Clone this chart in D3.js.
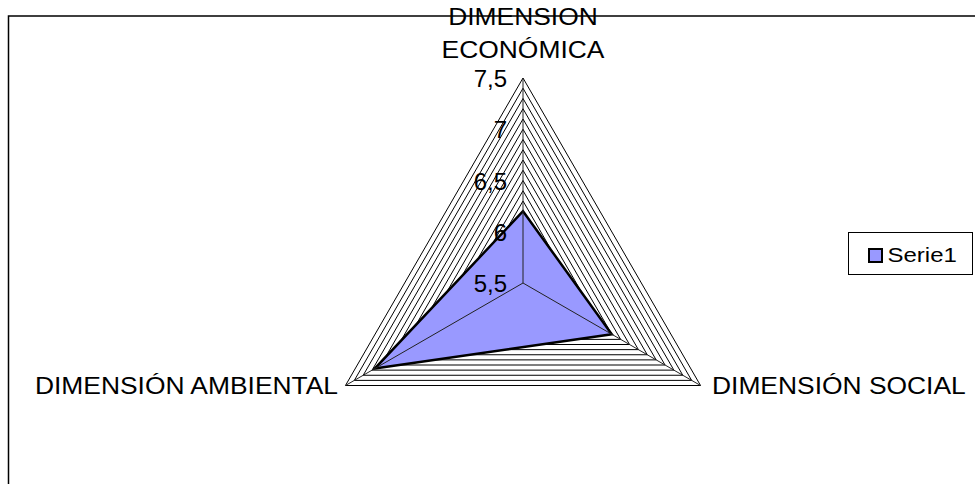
<!DOCTYPE html>
<html>
<head>
<meta charset="utf-8">
<script src="https://cdn.jsdelivr.net/npm/d3@7"></script>
<style>
  body { margin: 0; background: #fff; }
  svg { display: block; font-family: "Liberation Sans", Arial, sans-serif; }
</style>
</head>
<body>
<div id="chart"></div>
<script>
// Radar chart: one series over three dimensions, scale 5,5 - 7,5.
const categories = ["DIMENSION\nECONÓMICA", "DIMENSIÓN SOCIAL", "DIMENSIÓN AMBIENTAL"];
const serieName = "Serie1";
const serieValues = [6.2, 6.5, 7.17];
const tickValues = [5.5, 6, 6.5, 7, 7.5];
const tickLabels = ["5,5", "6", "6,5", "7", "7,5"];

const width = 975;
const height = 484;
const cx = 523, cy = 283, radius = 205;
const textStretch = 1.1;

const svg = d3.select("#chart")
  .append("svg")
  .attr("width", width)
  .attr("height", height);

// outer chart frame (runs off the right and bottom edges)
svg.append("rect")
  .attr("x", 8.5).attr("y", 16)
  .attr("width", 1000).attr("height", 500)
  .attr("fill", "#fff")
  .attr("stroke", "#000")
  .attr("stroke-width", 1.5);

const r = d3.scaleLinear().domain([5.5, 7.5]).range([0, radius]);
const angle = d3.scaleLinear().domain([0, categories.length]).range([-Math.PI / 2, 1.5 * Math.PI]);

const pt = (i, v) => [cx + r(v) * Math.cos(angle(i)), cy + r(v) * Math.sin(angle(i))];
const idx = d3.range(categories.length);

const g = svg.append("g");

// grid rings every 0.1
const rings = r.ticks(20).filter(v => v > 5.5);
g.selectAll(".ring")
  .data(rings)
  .join("polygon")
  .attr("points", v => idx.map(i => pt(i, v).join(",")).join(" "))
  .attr("fill", "none")
  .attr("stroke", "#000")
  .attr("stroke-width", 1);

// series area
g.append("polygon")
  .attr("points", idx.map(i => pt(i, serieValues[i]).join(",")).join(" "))
  .attr("fill", "#9999ff")
  .attr("stroke", "#000")
  .attr("stroke-width", 2.5)
  .attr("stroke-linejoin", "miter");

// spokes
g.selectAll(".spoke")
  .data(idx)
  .join("line")
  .attr("x1", cx).attr("y1", cy)
  .attr("x2", i => pt(i, 7.5)[0])
  .attr("y2", i => pt(i, 7.5)[1])
  .attr("stroke", "#222")
  .attr("stroke-width", 1);

// value labels on the top axis
svg.selectAll(".tick-label")
  .data(tickValues)
  .join("text")
  .attr("transform", (v) => `translate(${cx - 16},${cy - r(v) + 9})`)
  .attr("text-anchor", "end")
  .attr("font-size", 24)
  .text((v, i) => tickLabels[i]);

// category labels
const labelPos = [
  { x: cx, y: 25, anchor: "middle" },
  { x: 712, y: 394, anchor: "start" },
  { x: 338, y: 394, anchor: "end" }
];
categories.forEach((c, i) => {
  const t = svg.append("text")
    .attr("transform", `translate(${labelPos[i].x},${labelPos[i].y}) scale(${textStretch},1)`)
    .attr("text-anchor", labelPos[i].anchor)
    .attr("font-size", 24);
  c.split("\n").forEach((line, k) => {
    t.append("tspan").attr("x", 0).attr("y", k * 33).text(line);
  });
});

// legend
const legend = svg.append("g").attr("transform", "translate(848.5,232.5)");
legend.append("rect")
  .attr("width", 124).attr("height", 42)
  .attr("fill", "#fff")
  .attr("stroke", "#000")
  .attr("stroke-width", 1);
legend.append("rect")
  .attr("x", 20.5).attr("y", 16.5)
  .attr("width", 13).attr("height", 13)
  .attr("fill", "#9999ff")
  .attr("stroke", "#000")
  .attr("stroke-width", 2);
legend.append("text")
  .attr("transform", `translate(39,29) scale(1.2,1)`)
  .attr("font-size", 20)
  .text(serieName);
</script>
</body>
</html>
